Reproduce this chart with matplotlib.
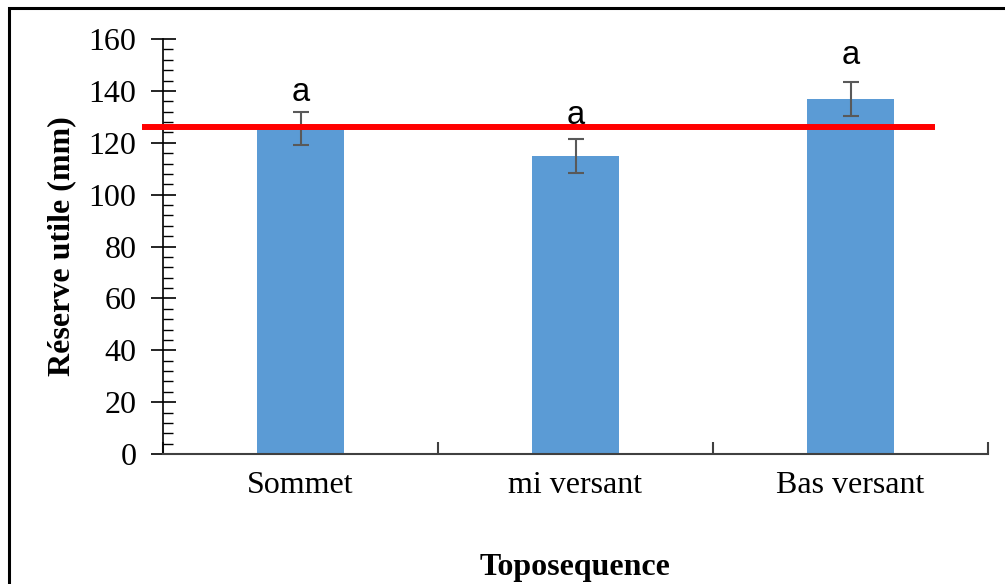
import matplotlib
matplotlib.use("Agg")
import matplotlib.pyplot as plt
from matplotlib.patches import Rectangle
from matplotlib.ticker import MultipleLocator

categories = ["Sommet", "mi versant", "Bas versant"]
values = [125.5, 115, 137]
errors = [6.3, 6.5, 6.5]
letters = ["a", "a", "a"]
letter_y = [136.0, 127.3, 150.3]
ref_value = 126
yticks = [0, 20, 40, 60, 80, 100, 120, 140, 160]

W, H = 1005, 584
fig = plt.figure(figsize=(W / 100, H / 100), dpi=100)
ax = fig.add_axes([163 / W, 1 - 454 / H, (988 - 163) / W, (454 - 39) / H])

x = list(range(len(categories)))
ax.bar(x, values, width=0.313, color="#5B9BD5", zorder=2)
ax.errorbar(x, values, yerr=errors, fmt="none", ecolor="#595959",
            elinewidth=1.5, capsize=6, capthick=1.5, zorder=3)
for xi, lab, ly in zip(x, letters, letter_y):
    ax.text(xi, ly, lab, ha="center", va="baseline", fontsize=23.5,
            family="Liberation Sans", zorder=4)

ax.plot([-0.576, 2.307], [ref_value, ref_value], color="#FF0000",
        linewidth=4.3, solid_capstyle="butt", clip_on=False, zorder=5)

ax.set_xlim(-0.5, 2.5)
ax.set_ylim(0, 160)
ax.set_yticks(yticks)
ax.yaxis.set_minor_locator(MultipleLocator(4))
ax.set_xticks([-0.5, 0.5, 1.5, 2.5])
ax.set_xticklabels([])
ax.set_xticks(x, minor=True)
ax.set_xticklabels(categories, minor=True)

for s in ["top", "right"]:
    ax.spines[s].set_visible(False)
ax.spines["left"].set_color("black")
ax.spines["left"].set_linewidth(1.2)
ax.spines["bottom"].set_color("#404040")
ax.spines["bottom"].set_linewidth(1.5)

ax.tick_params(axis="y", which="major", direction="inout", length=18, width=1.2,
               labelsize=23, pad=10)
ax.tick_params(axis="y", which="minor", direction="in", length=7, width=1.0)
ax.tick_params(axis="x", which="major", direction="in", length=9, width=1.5,
               color="#404040")
ax.tick_params(axis="x", which="minor", length=0, labelsize=23, pad=12)
for lab in ax.get_yticklabels() + ax.get_xticklabels(minor=True):
    lab.set_family("Liberation Serif")

ax.set_ylabel("Réserve utile (mm)", family="Liberation Serif", fontsize=23,
              fontweight="bold")
ax.yaxis.set_label_coords((76 - 163) / 825, 0.5)
fig.text(575 / W, 1 - 568 / H, "Toposequence", family="Liberation Serif",
         fontsize=23, fontweight="bold", ha="center", va="center")

fig.patches.append(Rectangle((9 / W, -0.1), 1.2, 1 - 8 / H + 0.1,
                             transform=fig.transFigure, fill=False,
                             edgecolor="black", linewidth=2.2))

fig.savefig("out.png", dpi=100)
